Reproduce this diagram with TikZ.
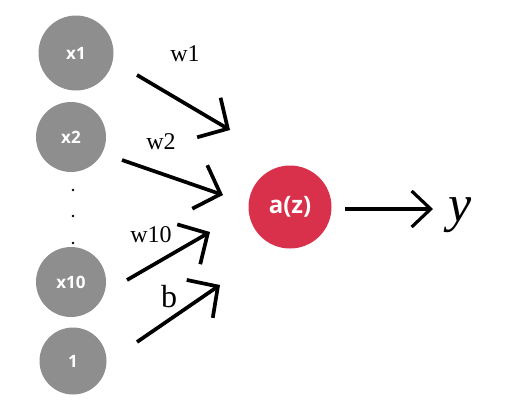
\documentclass[tikz,border=0pt]{standalone}
\usepackage{fontspec}
\setmainfont{Liberation Serif}
\newfontfamily\lblfont{Open Sans}
\usetikzlibrary{arrows.meta}
\definecolor{neurongray}{HTML}{8E8E8E}
\definecolor{neuronred}{HTML}{D9304B}
\begin{document}
\begin{tikzpicture}[x=1pt,y=-1pt,
  innode/.style={circle,fill=neurongray,minimum size=72pt,inner sep=0pt,text=white,font=\lblfont\bfseries\fontsize{17}{17}\selectfont},
  outnode/.style={circle,fill=neuronred,minimum size=83pt,inner sep=0pt,text=white,font=\lblfont\bfseries\fontsize{24}{24}\selectfont},
  wire/.style={line width=3.7pt,-{Straight Barb[length=22pt,width=46pt,line width=3.7pt]}},
  outwire/.style={line width=3.2pt,-{Straight Barb[length=19pt,width=36pt,line width=3.2pt]}},
  wlabel/.style={font=\fontsize{24}{24}\selectfont,inner sep=0pt},
  dotmark/.style={circle,fill=black,minimum size=2.8pt,inner sep=0pt}
]
\useasboundingbox (0,0) rectangle (513,405);
\node[innode,minimum size=75pt] (x1) at (76,53) {x1};
\node[innode,minimum size=70pt] (x2) at (71,137) {x2};
\node[innode,minimum size=70pt] (x10) at (71,282) {x10};
\node[innode,minimum size=67pt] (one) at (73,361) {1};
\node[outnode] (az) at (290,207) {a(z)};
\node[dotmark] (d1) at (73,190) {};
\node[dotmark] (d2) at (73,216) {};
\node[dotmark] (d3) at (73,243) {};
\coordinate (s1) at (137,75);  \coordinate (t1) at (230,130);
\coordinate (s2) at (122,160); \coordinate (t2) at (223,195);
\coordinate (s3) at (127,280); \coordinate (t3) at (210,232);
\coordinate (s4) at (137,342); \coordinate (t4) at (220,285);
\coordinate (so) at (345,209); \coordinate (to) at (433,209);
\draw[wire] (s1) -- (t1);
\draw[wire] (s2) -- (t2);
\draw[wire] (s3) -- (t3);
\draw[wire] (s4) -- (t4);
\draw[outwire] (so) -- (to);
\node[wlabel] (lw1) at (185,54) {w1};
\node[wlabel] (lw2) at (161,142) {w2};
\node[wlabel] (lw10) at (151,235) {w10};
\node[font=\fontsize{32}{32}\selectfont,inner sep=0pt] (lb) at (169,297) {b};
\node[font=\itshape\fontsize{52}{52}\selectfont,inner sep=0pt] (ly) at (460,215) {y};
\end{tikzpicture}
\end{document}
